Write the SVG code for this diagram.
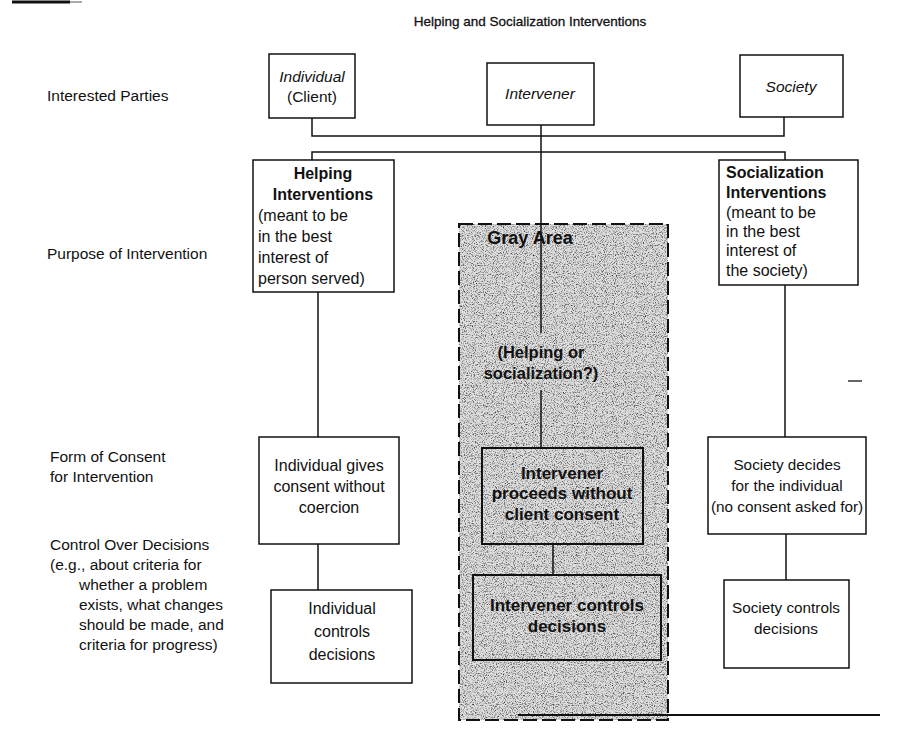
<svg xmlns="http://www.w3.org/2000/svg" width="906" height="734" viewBox="0 0 906 734">
<style>
text{font-family:"Liberation Sans",Arial,sans-serif;fill:#111;font-size:15.5px}
.c{text-anchor:middle}
.i{font-style:italic}
.b{font-weight:bold}
.m{font-size:16px}
.s{font-size:15.3px}
.g{font-size:16.5px;font-weight:bold}
.box{fill:#fff;stroke:#111;stroke-width:1.5}
.gbox{fill:none;stroke:#111;stroke-width:2}
.ln{stroke:#111;stroke-width:1.5;fill:none}
</style>
<defs>
<filter id="grain" x="0" y="0" width="100%" height="100%" color-interpolation-filters="sRGB">
<feTurbulence type="fractalNoise" baseFrequency="0.9" numOctaves="2" seed="7" result="n"/>
<feColorMatrix in="n" type="matrix" values="0 0 0 0 0  0 0 0 0 0  0 0 0 0 0  2.0 0 0 0 -0.95"/>
<feComposite in2="SourceGraphic" operator="in"/>
</filter>
</defs>
<rect width="906" height="734" fill="#fff"/>
<line x1="12" y1="2" x2="70" y2="2" stroke="#111" stroke-width="3"/>
<line x1="70" y1="2" x2="82" y2="2" stroke="#aaa" stroke-width="2"/>
<text x="530" y="26" class="c" style="font-size:13.5px;stroke:#111;stroke-width:0.3">Helping and Socialization Interventions</text>
<g id="labels">
<text x="47" y="101">Interested Parties</text>
<text x="47" y="259">Purpose of Intervention</text>
<text x="50" y="462">Form of Consent</text>
<text x="50" y="482">for Intervention</text>
<text x="50" y="550">Control Over Decisions</text>
<text x="50" y="570">(e.g., about criteria for</text>
<text x="79" y="590">whether a problem</text>
<text x="79" y="610">exists, what changes</text>
<text x="79" y="630">should be made, and</text>
<text x="79" y="650">criteria for progress)</text>
</g>
<g id="gray-area">
<rect x="459" y="224" width="209" height="496" fill="#dedede"/>
<rect x="459" y="224" width="209" height="496" fill="#000" filter="url(#grain)"/>
<rect x="459" y="224" width="209" height="496" fill="none" stroke="#111" stroke-width="2" stroke-dasharray="14,5"/>
<text x="530" y="244" class="c b" style="font-size:18px">Gray Area</text>
<text x="541" y="358" class="c g">(Helping or</text>
<text x="541" y="379" class="c g">socialization?)</text>
</g>
<g id="connectors">
<polyline class="ln" points="312,118 312,136 784,136 784,117"/>
<line class="ln" x1="541" y1="125" x2="541" y2="333"/>
<polyline class="ln" points="312,160 312,152 785,152 785,160"/>
<line class="ln" x1="318" y1="292" x2="318" y2="437"/>
<line class="ln" x1="318" y1="544" x2="318" y2="590"/>
<line class="ln" x1="785" y1="285" x2="785" y2="437"/>
<line class="ln" x1="786" y1="534" x2="786" y2="580"/>
<line class="ln" x1="541" y1="390" x2="541" y2="448"/>
<line class="ln" x1="553" y1="544" x2="553" y2="575"/>
</g>
<g id="individual">
<rect class="box" x="269" y="54" width="86" height="64"/>
<text x="312" y="82" class="c i">Individual</text>
<text x="312" y="102" class="c">(Client)</text>
</g>
<g id="intervener">
<rect class="box" x="487" y="63" width="107" height="62"/>
<text x="540" y="99" class="c i">Intervener</text>
</g>
<g id="society">
<rect class="box" x="740" y="55" width="103" height="62"/>
<text x="791" y="92" class="c i">Society</text>
</g>
<g id="helping">
<rect class="box" x="253" y="160" width="141" height="132"/>
<text x="323" y="179" class="c b m">Helping</text>
<text x="323" y="200" class="c b m">Interventions</text>
<text x="258" y="221" class="m">(meant to be</text>
<text x="258" y="242" class="m">in the best</text>
<text x="258" y="263" class="m">interest of</text>
<text x="258" y="284" class="m">person served)</text>
</g>
<g id="socialization">
<rect class="box" x="719" y="160" width="139" height="125"/>
<text x="726" y="178" class="b m">Socialization</text>
<text x="726" y="198" class="b m">Interventions</text>
<text x="726" y="218" class="m">(meant to be</text>
<text x="726" y="237" class="m">in the best</text>
<text x="726" y="256" class="m">interest of</text>
<text x="726" y="276" class="m">the society)</text>
</g>
<g id="consent-individual">
<rect class="box" x="259" y="437" width="140" height="107"/>
<text x="329" y="471" class="c m">Individual gives</text>
<text x="329" y="492" class="c m">consent without</text>
<text x="329" y="513" class="c m">coercion</text>
</g>
<g id="control-individual">
<rect class="box" x="271" y="590" width="141" height="93"/>
<text x="342" y="614" class="c m">Individual</text>
<text x="342" y="637" class="c m">controls</text>
<text x="342" y="660" class="c m">decisions</text>
</g>
<g id="consent-intervener">
<rect class="gbox" x="482" y="448" width="161" height="96"/>
<text x="562" y="479" class="c b" style="font-size:17px">Intervener</text>
<text x="562" y="499" class="c b" style="font-size:17px">proceeds without</text>
<text x="562" y="520" class="c b" style="font-size:17px">client consent</text>
</g>
<g id="control-intervener">
<rect class="gbox" x="473" y="575" width="188" height="85"/>
<text x="567" y="611" class="c b" style="font-size:17px">Intervener controls</text>
<text x="567" y="632" class="c b" style="font-size:17px">decisions</text>
</g>
<g id="consent-society">
<rect class="box" x="708" y="437" width="158" height="97"/>
<text x="787" y="470" class="c s">Society decides</text>
<text x="787" y="491" class="c s">for the individual</text>
<text x="787" y="512" class="c s">(no consent asked for)</text>
</g>
<g id="control-society">
<rect class="box" x="724" y="580" width="125" height="88"/>
<text x="786" y="613" class="c s">Society controls</text>
<text x="786" y="634" class="c s">decisions</text>
</g>
<line x1="848" y1="381" x2="862" y2="381" stroke="#333" stroke-width="1.5"/>
<line x1="518" y1="715" x2="880" y2="715" stroke="#111" stroke-width="2"/>
</svg>
